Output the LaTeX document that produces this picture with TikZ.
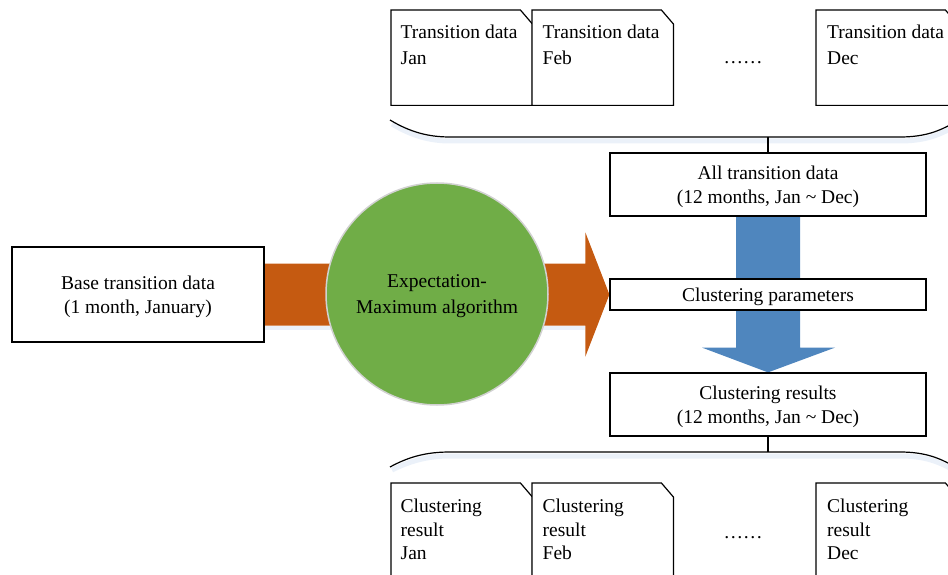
\documentclass[tikz,border=0pt]{standalone}
\usepackage{fontspec}
\setmainfont{Liberation Serif}
\usetikzlibrary{calc,backgrounds}

\definecolor{emorange}{HTML}{C55A11}
\definecolor{emgreen}{HTML}{70AD47}
\definecolor{emblue}{HTML}{4F86BE}
\definecolor{softshade}{HTML}{EBF1F9}

% outline of a sheet with a folded upper-right corner, drawn around node #1
\newcommand{\sheetoutline}[1]{%
  \draw[frame] (#1.south west) -- (#1.north west)
    -- ($(#1.north east)+(-12,0)$) -- ($(#1.north east)+(0,14)$)
    -- (#1.south east) -- cycle;}

\begin{document}
\begin{tikzpicture}[x=1pt,y=-1pt,
  every node/.style={font=\fontsize{19.5}{24}\selectfont},
  frame/.style={draw=black, line width=1.2pt, fill=white},
  box/.style={frame, inner sep=0pt, align=center, text depth=0pt},
  sheet/.style={inner sep=0pt, minimum width=141pt, anchor=north west},
  sheettext/.style={anchor=north west, inner sep=0pt, align=left},
  brace/.style={draw=black, line width=1.2pt},
  braceshade/.style={draw=softshade, line width=5pt},
  link/.style={draw=black, line width=1.2pt}]

\useasboundingbox (0,0) rectangle (948,575);

% central boxes
\node[box, minimum width=316pt, minimum height=63pt] (all) at (768,184.5)
  {All transition data\\(12 months, Jan \textasciitilde{} Dec)};
\node[box, minimum width=316pt, minimum height=31pt] (params) at (768,294.5)
  {Clustering parameters};
\node[box, minimum width=316pt, minimum height=63pt] (results) at (768,404.5)
  {Clustering results\\(12 months, Jan \textasciitilde{} Dec)};
\node[box, minimum width=252pt, minimum height=95pt] (base) at (138,294.5)
  {Base transition data\\(1 month, January)};

% EM algorithm
\node[circle, fill=emgreen, draw=black!18, line width=1.5pt, minimum size=222pt,
  inner sep=0pt, align=center, text depth=0pt,
  font=\fontsize{19.5}{26}\selectfont] (em) at (437,294) {Expectation-\\Maximum algorithm};

% monthly transition data sheets
\node[sheet, minimum height=95pt] (tjan) at (391,10) {};
\node[sheet, minimum height=95pt] (tfeb) at (532,10) {};
\node[sheet, minimum height=95pt] (tdec) at (816,10) {};
\sheetoutline{tjan}
\sheetoutline{tfeb}
\sheetoutline{tdec}
\begin{scope}[every node/.style={font=\fontsize{19.5}{26}\selectfont}]
\node[sheettext] (tjantxt) at ($(tjan.north west)+(9.5,14.5)$) {Transition data\\Jan};
\node[sheettext] (tfebtxt) at ($(tfeb.north west)+(10.5,14.5)$) {Transition data\\Feb};
\node[sheettext] (tdectxt) at ($(tdec.north west)+(11,14.5)$) {Transition data\\Dec};
\end{scope}
\node[anchor=base] (tdots) at (743,64) {……};

% monthly clustering result sheets
\node[sheet, minimum height=120pt] (cjan) at (391,483) {};
\node[sheet, minimum height=120pt] (cfeb) at (532,483) {};
\node[sheet, minimum height=120pt] (cdec) at (816,483) {};
\sheetoutline{cjan}
\sheetoutline{cfeb}
\sheetoutline{cdec}
\begin{scope}[every node/.style={font=\fontsize{19.5}{23.5}\selectfont}]
\node[sheettext] (cjantxt) at ($(cjan.north west)+(9.5,16)$) {Clustering\\result\\Jan};
\node[sheettext] (cfebtxt) at ($(cfeb.north west)+(10.5,16)$) {Clustering\\result\\Feb};
\node[sheettext] (cdectxt) at ($(cdec.north west)+(11,16)$) {Clustering\\result\\Dec};
\end{scope}
\node[anchor=base] (cdots) at (743,538) {……};

% braces gathering the sheets
\coordinate (tb) at (768,137);
\coordinate (bb) at (768,452);
\path[braceshade] (392,124) .. controls (412,136) and (430,141) .. (450,141)
  -- (900,141) .. controls (925,141) and (940,135) .. (955,126);
\path[brace] (390,120) .. controls (410,132) and (428,137) .. (450,137)
  -- (tb) -- (900,137) .. controls (925,137) and (940,131) .. (955,122);
\path[braceshade] (392,470) .. controls (412,460) and (430,456) .. (450,456)
  -- (900,456) .. controls (925,456) and (940,462) .. (955,471);
\path[brace] (390,467) .. controls (410,456) and (428,452) .. (450,452)
  -- (bb) -- (900,452) .. controls (925,452) and (940,458) .. (955,467);
\path[link] (tb) -- (all.north);
\path[link] (results.south) -- (bb);

% block arrows behind the nodes
\begin{pgfonlayer}{background}
  \fill[softshade] ($(base.east)+(0,31)$) rectangle ($(params.west)+(-24,35)$);
  \fill[emorange] ($(base.east)+(0,-31)$) -- ($(params.west)+(-24,-31)$)
    -- ($(params.west)+(-24,-62)$) -- (params.west)
    -- ($(params.west)+(-24,62)$) -- ($(params.west)+(-24,31)$)
    -- ($(base.east)+(0,31)$) -- cycle;
  \fill[emblue] ($(all.south)+(-32,0)$) -- ($(all.south)+(-32,131)$)
    -- ($(all.south)+(-66,131)$) -- (results.north)
    -- ($(all.south)+(67,131)$) -- ($(all.south)+(32,131)$)
    -- ($(all.south)+(32,0)$) -- cycle;
\end{pgfonlayer}
\end{tikzpicture}
\end{document}
